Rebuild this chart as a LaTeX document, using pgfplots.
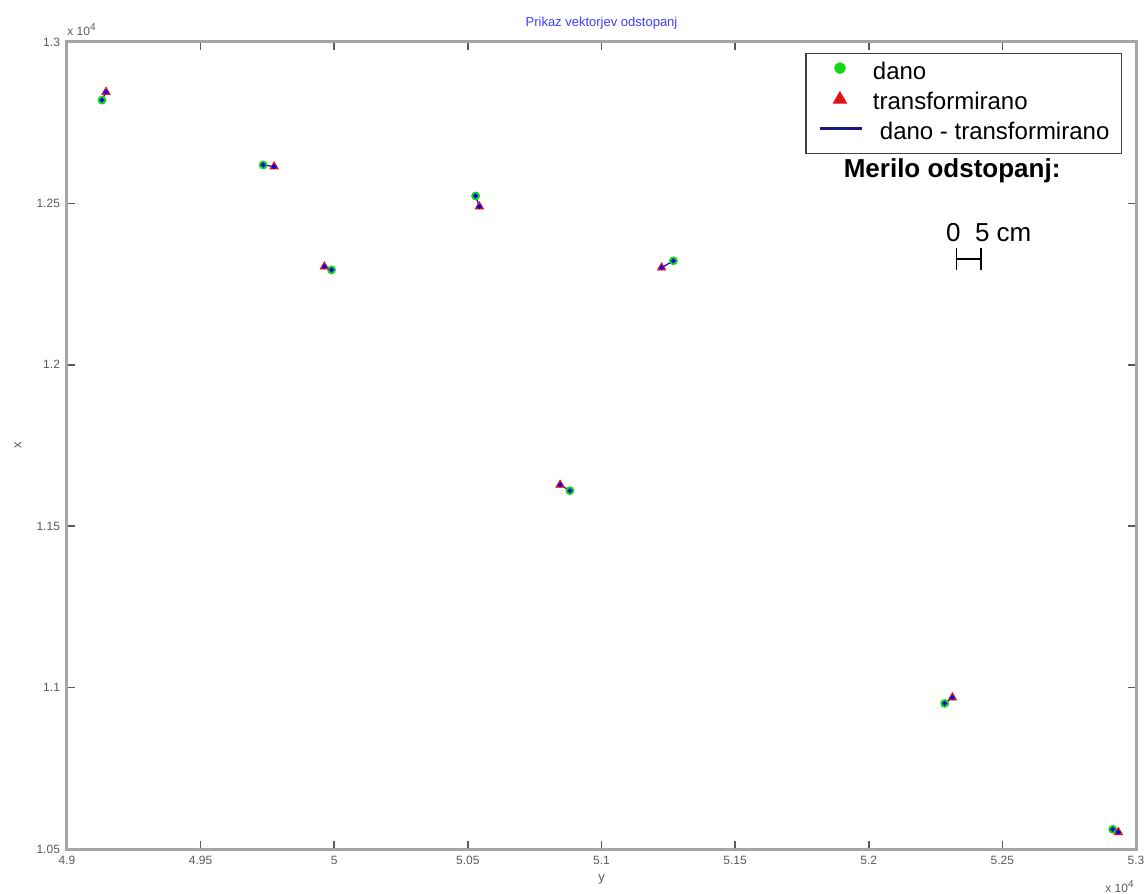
\documentclass[border=0pt]{standalone}
\usepackage{pgfplots}
\pgfplotsset{compat=1.18}
\usepackage{fontspec}
\setmainfont{Liberation Sans}
\definecolor{dgreen}{RGB}{20,215,20}
\definecolor{dred}{RGB}{225,20,20}
\definecolor{lblue}{RGB}{0,0,255}
\definecolor{navyb}{RGB}{25,25,130}
\definecolor{axgray}{RGB}{165,165,165}
\definecolor{tickgray}{RGB}{90,90,90}
\begin{document}
\begin{tikzpicture}
\useasboundingbox (-33.5pt,-22pt) rectangle (538.5pt,424.5pt);
\begin{axis}[
  at={(0pt,0pt)}, anchor=south west,
  scale only axis, width=534.5pt, height=403.5pt,
  xmin=49000, xmax=53000, ymin=10500, ymax=13000,
  scaled ticks=false,
  xtick={49000,49500,50000,50500,51000,51500,52000,52500,53000},
  xticklabels={4.9,4.95,5,5.05,5.1,5.15,5.2,5.25,5.3},
  ytick={10500,11000,11500,12000,12500,13000},
  yticklabels={1.05,1.1,1.15,1.2,1.25,1.3},
  tick align=inside, major tick length=4pt,
  tick style={tickgray, line width=0.8pt},
  axis line style={axgray, line width=1.5pt},
  ticklabel style={font=\fontsize{6}{7}\selectfont, text=tickgray},
  /pgf/number format/assume math mode=true,
  title={Prikaz vektorjev odstopanj},
  title style={font=\fontsize{6.5}{8}\selectfont, text={rgb,255:red,60;green,60;blue,255}, at={(axis description cs:0.5,1)}, anchor=center, yshift=3.5pt},
  xlabel={y},
  xlabel style={font=\fontsize{6.5}{8}\selectfont, text=tickgray, at={(axis description cs:0.5,0)}, anchor=center, yshift=-15pt},
  ylabel={x},
  ylabel style={font=\fontsize{6.5}{8}\selectfont, text=tickgray, at={(axis description cs:-0.0458,0.5)}, anchor=center, rotate=0},
  legend style={at={(axis description cs:0.9869,0.9867)}, anchor=north east,
    draw=black!75, line width=0.6pt, font=\fontsize{12}{14}\selectfont,
    inner xsep=4pt, inner ysep=2.5pt, row sep=0pt,
    nodes={inner sep=2pt, text height=8.5pt, text depth=2.5pt}},
  legend cell align=left,
  clip=false,
]
\addplot[only marks, mark=*, mark size=2pt, color=dgreen, mark options={draw=dgreen, fill=dgreen},
  legend image code/.code={\path[draw=none,fill=none] (0pt,-1pt) rectangle (27.5pt,7pt); \fill[dgreen] (13pt,2.6pt) circle (2.6pt);}]
  coordinates {(49131,12820) (49734,12619) (50529,12523) (49990,12294) (51269,12322) (50882,11610) (52284,10951) (52913,10561)};
\addlegendentry{dano}
\addplot[only marks, mark=triangle*, mark size=2.4pt, color=dred, mark options={draw=dred, fill=dred},
  legend image code/.code={\path[draw=none,fill=none] (0pt,-1pt) rectangle (27.5pt,7pt); \fill[dred] (9.8pt,0.1pt) -- (16.2pt,0.1pt) -- (13pt,5.6pt) -- cycle;}]
  coordinates {(49146,12845) (49775,12614) (50543,12490) (49963,12304) (51225,12301) (50845,11628) (52313,10969) (52934,10552)};
\addlegendentry{transformirano}
\addplot[lblue, line width=0.6pt, unbounded coords=jump, mark=*, mark size=0.9pt, mark options={draw=lblue, fill=lblue},
  legend image code/.code={\path[draw=none,fill=none] (0pt,-1pt) rectangle (27.5pt,7pt); \draw[navyb, line width=1.4pt] (3pt,2.6pt) -- (24pt,2.6pt);}]
  coordinates {(49131,12820) (49146,12845) (nan,nan)
               (49734,12619) (49775,12614) (nan,nan)
               (50529,12523) (50543,12490) (nan,nan)
               (49990,12294) (49963,12304) (nan,nan)
               (51269,12322) (51225,12301) (nan,nan)
               (50882,11610) (50845,11628) (nan,nan)
               (52284,10951) (52313,10969) (nan,nan)
               (52913,10561) (52934,10552)};
\addlegendentry{\hspace{3.5pt}dano - transformirano\hspace{2.5pt}}
% scale bar
\addplot[black, line width=0.8pt, unbounded coords=jump, forget plot]
  coordinates {(52329,12328) (52420,12328) (nan,nan)
               (52329,12362) (52329,12294) (nan,nan)
               (52420,12362) (52420,12294)};
\node[anchor=base, inner sep=0pt, font=\bfseries\fontsize{13}{15}\selectfont] at (axis cs:52312,12579) {Merilo odstopanj:};
\node[anchor=base west, inner sep=0pt, font=\fontsize{13}{15}\selectfont] at (axis cs:52288,12381) {0\ \ 5 cm};
\node[anchor=south west, inner sep=0pt, font=\fontsize{6}{7}\selectfont, text=tickgray] at (axis description cs:0,1) [yshift=3pt] {x 10\textsuperscript{4}};
\node[anchor=west, inner sep=0pt, font=\fontsize{6}{7}\selectfont, text=tickgray] at (axis description cs:1,0) [xshift=-15.5pt, yshift=-19pt] {x 10\textsuperscript{4}};
\end{axis}
\end{tikzpicture}
\end{document}
